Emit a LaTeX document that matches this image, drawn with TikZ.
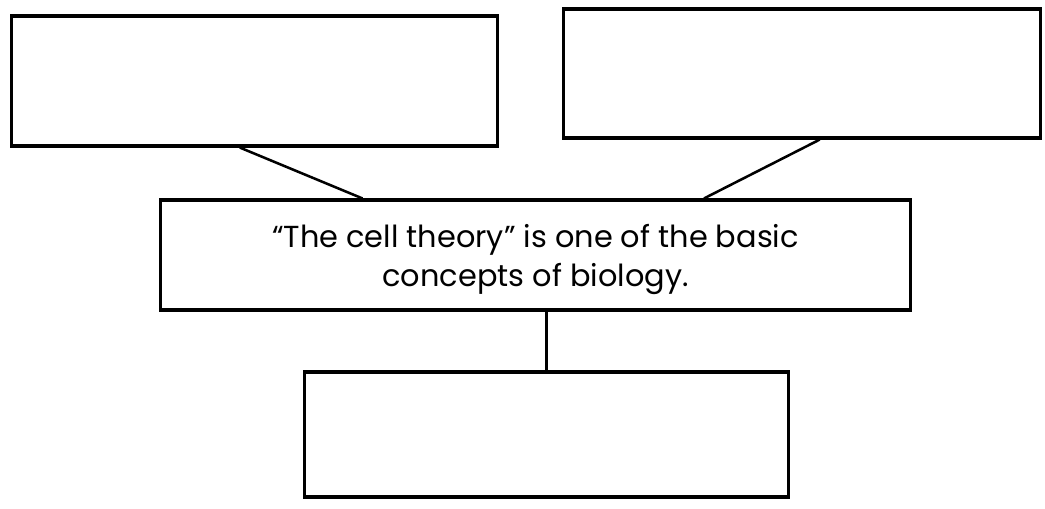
\documentclass[tikz,border=0pt]{standalone}
\usepackage{fontspec}
\setmainfont{Poppins}
\usepackage{tikz}
\usetikzlibrary{
  calc,
  positioning
}
\tikzset{
  cellBox/.style={
    rectangle,
    draw=black,
    fill=white,
    line width=2.2pt,
    inner sep=0pt,
    align=center
  },
  cellLink/.style={
    line width=1.8pt,
    draw=black
  }
}

\begin{document}
\begin{tikzpicture}[x=0.025cm, y=-0.025cm]
  \useasboundingbox (0,0) rectangle (1045,508);

  \node[cellBox, minimum width=12.125cm, minimum height=3.25cm]
    (left) at (254.5,81) {};

  \node[cellBox, minimum width=11.9cm, minimum height=3.225cm]
    (right) at (802,73.5) {};

  \node[cellBox, minimum width=18.725cm, minimum height=2.75cm,
    font=\fontsize{21.6}{27.7}\selectfont]
    (theory) at (535.5,255)
    {\rule{0pt}{1.07em}“The cell theory” is one of the basic\\concepts of biology.};

  \node[cellBox, minimum width=12.075cm, minimum height=3.125cm]
    (task) at (546.5,434.5) {};

  \draw[cellLink] ($(left.south west)!0.47!(left.south east)$)
    -- ($(theory.north west)!0.27!(theory.north east)$);
  \draw[cellLink] ($(right.south west)!0.537!(right.south east)$)
    -- ($(theory.north west)!0.724!(theory.north east)$);
  \draw[cellLink] (task.north |- theory.south) -- (task.north);
\end{tikzpicture}
\end{document}
